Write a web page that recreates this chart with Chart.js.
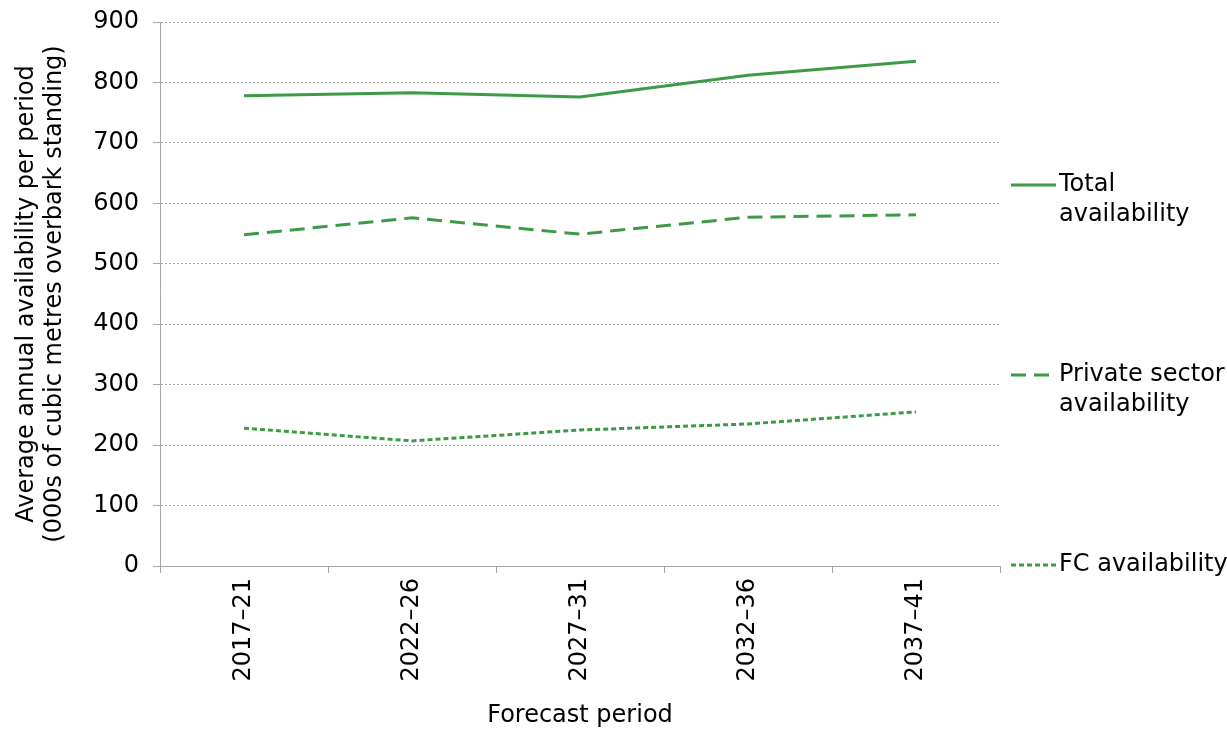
<!DOCTYPE html>
<html>
<head>
<meta charset="utf-8">
<script src="https://cdn.jsdelivr.net/npm/chart.js@4"></script>
<style>
  html, body { margin: 0; padding: 0; background: #fff; }
  #wrap { width: 1227px; height: 730px; position: relative; }
</style>
</head>
<body>
<div id="wrap"><canvas id="availChart" width="1227" height="730"></canvas></div>
<script>
// data
const periods = ["2017\u201321", "2022\u201326", "2027\u201331", "2032\u201336", "2037\u201341"];
const totalAvail = [778, 783, 776, 812, 835];
const privateAvail = [548, 576, 549, 577, 581];
const fcAvail = [228, 207, 225, 235, 255];
const legendNames = [["Total", "availability"], ["Private sector", "availability"], ["FC availability"]];
const yTitle = ["Average annual availability per period", "(000s of cubic metres overbark standing)"];

const green = "#3d9b48";
const fontFamily = "'DejaVu Sans', Verdana, sans-serif";
Chart.defaults.font.family = fontFamily;
Chart.defaults.font.size = 24;
Chart.defaults.color = "#000";

// legend drawn at the right, one entry per series
const sideLegend = {
  id: "sideLegend",
  afterDraw(chart) {
    const ctx = chart.ctx;
    const rows = [185, 375, 565];
    ctx.save();
    chart.data.datasets.forEach((ds, i) => {
      const y = rows[i];
      ctx.strokeStyle = ds.borderColor;
      ctx.lineWidth = ds.borderWidth;
      ctx.setLineDash(ds.borderDash || []);
      ctx.beginPath();
      ctx.moveTo(1011, y);
      ctx.lineTo(1056, y);
      ctx.stroke();
      ctx.setLineDash([]);
      ctx.fillStyle = "#000";
      ctx.font = "24px " + fontFamily;
      ctx.textBaseline = "middle";
      ctx.textAlign = "left";
      legendNames[i].forEach((line, k) => {
        ctx.fillText(line, 1059, y + k * 30);
      });
    });
    ctx.restore();
  }
};

var ctx1 = document.getElementById("availChart").getContext("2d");
var chart1 = new Chart(ctx1, {
  type: "line",
  data: {
    labels: periods,
    datasets: [
      {
        label: "Total availability",
        data: totalAvail,
        borderColor: green,
        borderWidth: 3,
        pointRadius: 0,
        tension: 0
      },
      {
        label: "Private sector availability",
        data: privateAvail,
        borderColor: green,
        borderWidth: 3,
        borderDash: [15, 8],
        pointRadius: 0,
        tension: 0
      },
      {
        label: "FC availability",
        data: fcAvail,
        borderColor: green,
        borderWidth: 3,
        borderDash: [5, 3],
        pointRadius: 0,
        tension: 0
      }
    ]
  },
  options: {
    responsive: false,
    animation: false,
    layout: { padding: { left: 8, top: 22, right: 227, bottom: 0 } },
    plugins: {
      legend: { display: false },
      tooltip: { enabled: false }
    },
    scales: {
      x: {
        offset: true,
        grid: {
          display: true,
          drawOnChartArea: false,
          offset: true,
          color: "#a6a6a6",
          tickLength: 7
        },
        border: { color: "#a6a6a6", width: 1 },
        ticks: {
          minRotation: 90,
          maxRotation: 90,
          padding: 5
        },
        title: {
          display: true,
          text: "Forecast period",
          padding: { top: 8, bottom: 0 }
        },
        afterFit(scale) { scale.height = 164; }
      },
      y: {
        min: 0,
        max: 900,
        ticks: { stepSize: 100, padding: 14 },
        grid: {
          color: "#a6a6a6",
          tickLength: 7,
          drawTicks: true
        },
        border: { color: "#a6a6a6", width: 1, dash: [2, 2] },
        title: {
          display: true,
          text: yTitle,
          padding: { top: 4, bottom: 6 },
          font: { lineHeight: 1.2 }
        },
        afterFit(scale) {
          scale.width = 152;
          scale.paddingTop = 0;
          scale.paddingBottom = 0;
        }
      }
    }
  },
  plugins: [sideLegend]
});
</script>
</body>
</html>
